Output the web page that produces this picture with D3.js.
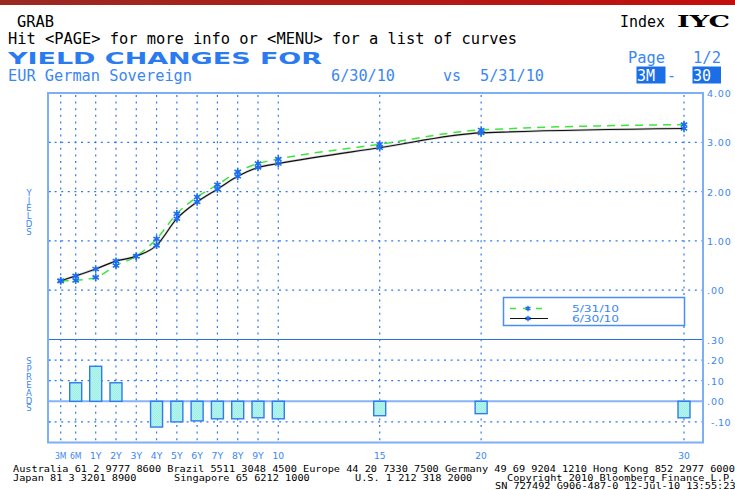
<!DOCTYPE html>
<html><head><meta charset="utf-8">
<script src="https://cdn.jsdelivr.net/npm/d3@7"></script>
<style>body{margin:0;background:#fff;} svg{display:block}</style>
</head><body>
<svg id="c" width="735" height="490"></svg>
<script>
// ---- data ----
const tenors = ["3M","6M","1Y","2Y","3Y","4Y","5Y","6Y","7Y","8Y","9Y","10","15","20","30"];
const tenorYears = [0.25,0.5,1,2,3,4,5,6,7,8,9,10,15,20,30];
const yields0630 = [0.19,0.29,0.43,0.59,0.69,0.91,1.45,1.79,2.05,2.31,2.49,2.57,2.89,3.19,3.28];
const yields0531 = [0.19,0.20,0.26,0.50,0.69,1.04,1.55,1.89,2.14,2.40,2.57,2.66,2.96,3.25,3.36];
const spreads = [0,0.09,0.17,0.09,0,-0.125,-0.10,-0.095,-0.085,-0.085,-0.08,-0.085,-0.07,-0.06,-0.08];
const yieldTicks = [0,1,2,3,4];
const spreadTicks = [-0.1,0,0.1,0.2,0.3];
const seriesNames = ["5/31/10","6/30/10"];

// ---- layout ----
const svg = d3.select("#c");
const L = 48, R = 703, T = 93, MID = 339.5, B = 442.5;
const blue = "#3a86f5", gridBlue = "#2f78ee", markBlue = "#1d6ef0";

const x = d3.scaleLinear().domain([0.25,0.5,1,30]).range([60.7,75.7,95.7,684]);
const y = d3.scaleLinear().domain([-1,4]).range([MID,T]);
const ys = d3.scaleLinear().domain([-0.2,0.3]).range([B,MID]);

// header band
const defs = svg.append("defs");
const g1 = defs.append("linearGradient").attr("id","band");
g1.append("stop").attr("offset","0%").attr("stop-color","#9a2a22");
g1.append("stop").attr("offset","100%").attr("stop-color","#c40e0c");
svg.append("rect").attr("x",0).attr("y",0).attr("width",735).attr("height",5).attr("fill","url(#band)");

function txt(s, x0, yb, opts={}) {
  const t = svg.append("text").attr("x",x0).attr("y",yb).text(s)
    .attr("font-family", opts.ff || "DejaVu Sans Mono")
    .attr("font-size", opts.fs || 15)
    .attr("fill", opts.fill || "#000")
    .attr("xml:space","preserve");
  if (opts.fw) t.attr("font-weight", opts.fw);
  if (opts.len) t.attr("textLength", opts.len).attr("lengthAdjust", opts.adj || "spacingAndGlyphs");
  if (opts.anchor) t.attr("text-anchor", opts.anchor);
  if (opts.ls) t.attr("letter-spacing", opts.ls);
  return t;
}

// header text
txt("GRAB", 17, 27, {len:37});
txt("Hit <PAGE> for more info or <MENU> for a list of curves", 8, 44, {len:509});
txt("YIELD CHANGES FOR", 8, 63.5, {ff:"DejaVu Sans", fw:"bold", fs:16, fill:"#2a7af0", len:314});
txt("EUR German Sovereign", 8, 81, {fill:blue, len:184});
txt("6/30/10", 331, 81, {fill:blue, len:64});
txt("vs", 443, 81, {fill:blue, len:18});
txt("5/31/10", 480, 81, {fill:blue, len:64});
txt("Index", 620, 27, {len:45});
txt("IYC", 677, 27, {ff:"DejaVu Serif", fw:"bold", fs:16, len:53});
txt("Page", 628, 63, {fill:blue, len:37});
txt("1/2", 693, 63, {fill:blue, len:28});
svg.append("rect").attr("x",636.5).attr("y",66.5).attr("width",29).attr("height",17).attr("fill","#1b6fe6");
txt("3M", 637, 81, {fill:"#fff", len:18});
txt("-", 667, 81, {fill:blue});
svg.append("rect").attr("x",692.5).attr("y",66.5).attr("width",28.5).attr("height",17).attr("fill","#1b6fe6");
txt("30", 693, 81, {fill:"#fff", len:18});

// grid
const grid = svg.append("g").attr("stroke",gridBlue).attr("stroke-width",1.2).attr("stroke-dasharray","2,4.6").attr("fill","none");
tenorYears.forEach(t => grid.append("line").attr("x1",x(t)).attr("x2",x(t)).attr("y1",T+2).attr("y2",B));
yieldTicks.filter(v => v < 4).forEach(v => grid.append("line").attr("x1",L).attr("x2",R).attr("y1",y(v)).attr("y2",y(v)));
spreadTicks.filter(v => v !== 0 && v < 0.3).forEach(v => grid.append("line").attr("x1",L).attr("x2",R).attr("y1",ys(v)).attr("y2",ys(v)));

// small ticks on left axis
const tk = svg.append("g").attr("stroke",gridBlue).attr("stroke-width",1);
yieldTicks.forEach(v => tk.append("line").attr("x1",L).attr("x2",L+3).attr("y1",y(v)).attr("y2",y(v)));
spreadTicks.forEach(v => tk.append("line").attr("x1",L).attr("x2",L+3).attr("y1",ys(v)).attr("y2",ys(v)));

// spread zero line and panel divider
svg.append("line").attr("x1",L).attr("x2",R).attr("y1",ys(0)).attr("y2",ys(0)).attr("stroke","#86b4f7").attr("stroke-width",2);
svg.append("line").attr("x1",L).attr("x2",R).attr("y1",MID).attr("y2",MID).attr("stroke","#2a6fe4").attr("stroke-width",1.2);

// border
svg.append("rect").attr("x",L).attr("y",T).attr("width",R-L).attr("height",B-T)
  .attr("fill","none").attr("stroke","#7eaef6").attr("stroke-width",2);

// spread bars
const pat = defs.append("pattern").attr("id","chk").attr("width",2).attr("height",2).attr("patternUnits","userSpaceOnUse");
pat.append("rect").attr("width",2).attr("height",2).attr("fill","#b6f6ee");
pat.append("rect").attr("width",1).attr("height",1).attr("fill","#9eeee6");
pat.append("rect").attr("x",1).attr("y",1).attr("width",1).attr("height",1).attr("fill","#9eeee6");
svg.append("g").selectAll("rect").data(tenorYears.map((t,i)=>({t, v:spreads[i]})).filter(d=>d.v!==0))
  .join("rect")
  .attr("x", d => x(d.t)-6).attr("width",12)
  .attr("y", d => Math.min(ys(d.v), ys(0)))
  .attr("height", d => Math.abs(ys(d.v)-ys(0)))
  .attr("fill","url(#chk)").attr("stroke","#2f7bf0").attr("stroke-width",1.4);

// legend box (under lines/markers)
svg.append("rect").attr("x",503.5).attr("y",297.5).attr("width",181).attr("height",28)
  .attr("fill","#fff").attr("stroke","#4a8df5").attr("stroke-width",1.5);

// lines
const line = d3.line().x(d=>x(d[0])).y(d=>y(d[1])).curve(d3.curveMonotoneX);
const p531 = tenorYears.map((t,i)=>[t,yields0531[i]]);
const p630 = tenorYears.map((t,i)=>[t,yields0630[i]]);
svg.append("path").attr("d",line(p630)).attr("fill","none").attr("stroke","#aaa").attr("stroke-width",2.4).attr("opacity",0.5);
svg.append("path").attr("d",line(p531)).attr("fill","none").attr("stroke","#3de63d").attr("stroke-width",1.5).attr("stroke-dasharray","8,6");
svg.append("path").attr("d",line(p630)).attr("fill","none").attr("stroke","#111").attr("stroke-width",1.2);

// markers
const star = d3.symbol().type(d3.symbolAsterisk).size(38);
const mk = svg.append("g").attr("fill","none").attr("stroke",markBlue).attr("stroke-width",1.6);
p531.concat(p630).forEach(p => {
  mk.append("path").attr("d",star()).attr("transform",`translate(${x(p[0])},${y(p[1])})`);
  mk.append("circle").attr("cx",x(p[0])).attr("cy",y(p[1])).attr("r",1.6).attr("fill",markBlue).attr("stroke","none");
});

// legend contents
svg.append("line").attr("x1",510).attr("x2",548).attr("y1",308.5).attr("y2",308.5).attr("stroke","#3de63d").attr("stroke-width",1.5).attr("stroke-dasharray","6,7");
svg.append("line").attr("x1",510).attr("x2",548).attr("y1",318.5).attr("y2",318.5).attr("stroke","#111").attr("stroke-width",1.2);
const lm = svg.append("g").attr("fill","none").attr("stroke",markBlue).attr("stroke-width",1.4);
[308.5,318.5].forEach(yy => {
  lm.append("path").attr("d",d3.symbol().type(d3.symbolAsterisk).size(22)()).attr("transform",`translate(528,${yy})`);
  lm.append("circle").attr("cx",528).attr("cy",yy).attr("r",1.3).attr("fill",markBlue).attr("stroke","none");
});
txt(seriesNames[0], 572, 311.8, {ff:"DejaVu Sans", fs:8, fill:blue, len:47});
txt(seriesNames[1], 572, 321.6, {ff:"DejaVu Sans", fs:8, fill:blue, len:47});

// right axis labels
const fmt = v => d3.format(".2f")(v).replace("\u2212","-").replace(/^(-?)0\./,"$1.");
yieldTicks.forEach(v => {
  txt(fmt(v), 707, y(v)+4, {ff:"DejaVu Sans", fs:9.5, fill:blue, ls:0.9});
});
spreadTicks.forEach(v => {
  if (v < 0) txt(fmt(v), 711, ys(v)+4, {ff:"DejaVu Sans", fs:9.5, fill:blue, ls:0.3});
  else txt(fmt(v), 707, ys(v)+4, {ff:"DejaVu Sans", fs:9.5, fill:blue, ls:0.9});
});

// vertical axis titles: one text each, upright stacked letters
function vtitle(s, x0, y0, step) {
  svg.append("text").attr("x",x0).attr("y",y0).text(s)
    .attr("font-family","DejaVu Sans").attr("font-size",8.5).attr("fill",blue)
    .style("writing-mode","vertical-rl").style("text-orientation","upright")
    .attr("textLength", s.length*step).attr("lengthAdjust","spacing");
}
vtitle("YIELDS", 29, 188, 8.1);
vtitle("SPREADS", 29, 356, 8.2);

// x labels
tenors.forEach((s,i) => txt(s, x(tenorYears[i]), 459, {ff:"DejaVu Sans", fs:8.5, fill:blue, anchor:"middle", len:s.length*5.8}));

// footer
const cw = 6.17;
function foot(s, x0, yb) { txt(s, x0, yb, {fs:9, len: s.length*cw}); }
foot("Australia 61 2 9777 8600 Brazil 5511 3048 4500 Europe 44 20 7330 7500 Germany 49 69 9204 1210 Hong Kong 852 2977 6000", 13, 471.5);
foot("Japan 81 3 3201 8900", 13, 480.5);
foot("Singapore 65 6212 1000", 174, 480.5);
foot("U.S. 1 212 318 2000", 355, 480.5);
foot("Copyright 2010 Bloomberg Finance L.P.", 507, 480.5);
foot("SN 727492 G906-487-0 12-Jul-10 13:55:23", 495, 489);
</script>
</body></html>
